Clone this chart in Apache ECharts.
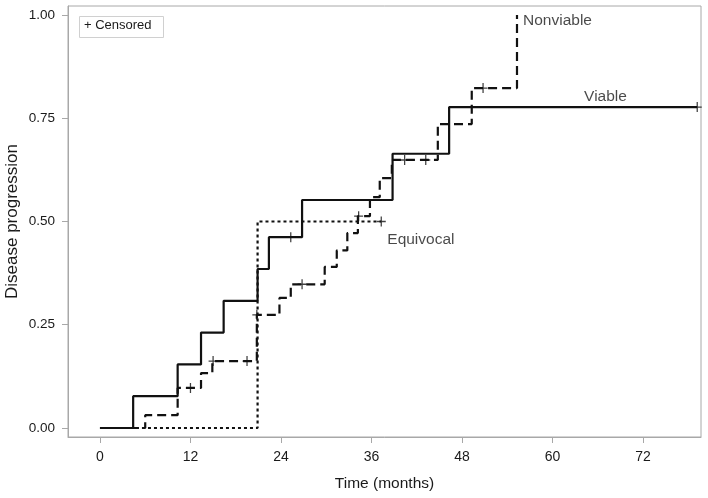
<!DOCTYPE html>
<html>
<head>
<meta charset="utf-8">
<script src="https://cdn.jsdelivr.net/npm/echarts@6/dist/echarts.min.js"></script>
<style>
html,body{margin:0;padding:0;background:#fff;}
#chart{width:708px;height:498px;}
</style>
</head>
<body>
<div id="chart"></div>
<script>
// ---- Data (months, cumulative disease progression) ----
const viableSteps = [[0,0],[4.4,0.077],[10.3,0.154],[13.4,0.231],[16.4,0.308],[20.9,0.385],[22.4,0.462],[26.8,0.552],[38.8,0.664],[46.3,0.777],[79.2,0.777]];
const viableCensored = [[25.3,0.462],[79.2,0.777]];

const nonviableSteps = [[0,0],[6.0,0.031],[10.3,0.097],[13.4,0.133],[14.9,0.162],[20.8,0.274],[23.8,0.315],[25.3,0.348],[29.8,0.39],[31.4,0.43],[32.8,0.472],[34.2,0.513],[35.8,0.559],[37.1,0.605],[38.7,0.649],[44.8,0.736],[49.3,0.823],[55.3,1.0]];
const nonviableCensored = [[12.0,0.097],[15.0,0.162],[19.5,0.162],[20.8,0.274],[26.8,0.348],[34.3,0.513],[40.4,0.649],[43.2,0.649],[50.8,0.823]];

const equivocalSteps = [[0,0],[20.9,0.5],[37.3,0.5]];
const equivocalCensored = [[37.3,0.5]];

const xTicks = [0,12,24,36,48,60,72];
const yTicks = [0,0.25,0.5,0.75,1.0];

const curveLabels = [
  {name:'Nonviable', at:[56.1,0.985]},
  {name:'Viable', at:[64.2,0.801]},
  {name:'Equivocal', at:[38.1,0.457]}
];

// ---- Chart ----
const chart = echarts.init(document.getElementById('chart'), null, {renderer:'canvas'});
const FONT = 'Liberation Sans, Arial, Helvetica, sans-serif';
const plusPath = 'path://M0,4.3H4.3V0H5.7V4.3H10V5.7H5.7V10H4.3V5.7H0Z';

function stepSeries(name, data, dash){
  return {
    name, type:'line', step:'end', data, symbol:'none',
    lineStyle:{color:'#111', width:2.2, type:dash, cap:'butt'},
    z:3, silent:true
  };
}
function censorSeries(name, data){
  return {
    name:name+' censored', type:'scatter', data, symbol:plusPath,
    symbolSize:[9,10], itemStyle:{color:'#111'}, z:4, silent:true
  };
}

chart.setOption({
  animation:false,
  backgroundColor:'#fff',
  grid:{left:68, right:7, top:6, bottom:61, show:true, borderColor:'#a8a8a8', borderWidth:1,
    containLabel:false, outerBoundsMode:'none'},
  xAxis:{
    type:'value', min:-4.24, max:79.7,
    name:'Time (months)', nameLocation:'middle', nameGap:39, nameMoveOverlap:false,
    nameTextStyle:{fontFamily:FONT, fontSize:15.5, color:'#1a1a1a'},
    axisLine:{show:true, onZero:false, lineStyle:{color:'#a8a8a8'}},
    axisTick:{show:true, length:6, lineStyle:{color:'#a8a8a8'}, customValues:xTicks},
    axisLabel:{fontFamily:FONT, fontSize:14, color:'#1a1a1a', margin:13, customValues:xTicks},
    splitLine:{show:false}
  },
  yAxis:{
    type:'value', min:-0.0218, max:1.0218,
    name:'Disease progression', nameLocation:'middle', nameGap:47, nameRotate:90, nameMoveOverlap:false,
    nameTextStyle:{fontFamily:FONT, fontSize:17, color:'#1a1a1a'},
    axisLine:{show:true, onZero:false, lineStyle:{color:'#a8a8a8'}},
    axisTick:{show:true, length:6, lineStyle:{color:'#a8a8a8'}, customValues:yTicks},
    axisLabel:{fontFamily:FONT, fontSize:13.5, color:'#1a1a1a', margin:13, customValues:yTicks,
      formatter:v=>v.toFixed(2)},
    splitLine:{show:false}
  },
  series:[
    stepSeries('Equivocal', equivocalSteps, [3,3]),
    stepSeries('Nonviable', nonviableSteps, [9,5]),
    stepSeries('Viable', viableSteps, 'solid'),
    censorSeries('Equivocal', equivocalCensored),
    censorSeries('Nonviable', nonviableCensored),
    censorSeries('Viable', viableCensored),
    {
      name:'labels', type:'scatter', symbolSize:0, silent:true, z:5,
      data:curveLabels.map(d=>({value:d.at, name:d.name})),
      label:{show:true, position:'right', distance:0, formatter:p=>p.name,
        fontFamily:FONT, fontSize:15.5, color:'#1a1a1a'}
    }
  ],
  graphic:[
    {type:'rect', left:79, top:16, shape:{width:84, height:21},
      style:{fill:'#fff', stroke:'#d0d0d0', lineWidth:1}, z:10},
    {type:'text', left:84, top:19, style:{text:'+ Censored', fontFamily:FONT, fontSize:13, fill:'#1a1a1a'}, z:11}
  ]
});
</script>
</body>
</html>
